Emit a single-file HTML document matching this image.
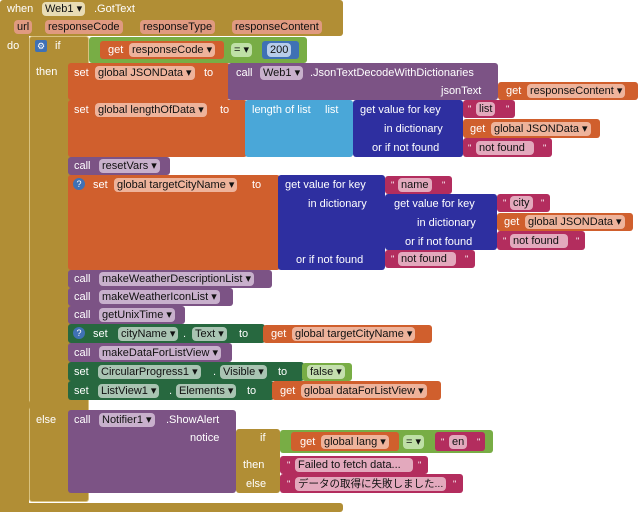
<!DOCTYPE html>
<html><head><meta charset="utf-8"><style>
body{margin:0;width:640px;height:512px;background:#fff;position:relative;overflow:hidden;font-family:"Liberation Sans","Noto Sans CJK JP",sans-serif;font-size:11px}
.b{position:absolute;border-radius:3px}
.t{position:absolute;color:#fff;white-space:nowrap;line-height:14px}
.p{position:absolute;background:rgba(255,255,255,.6);border-radius:4px;color:#111;padding:0 3px;height:14px;line-height:14px;white-space:nowrap}
.gold{background:#b18e35}.or{background:#d05f2d}.pu{background:#7c5385}.lb{background:#4aa7d8}.db{background:#2e2fa0}.mg{background:#b32d5e}.lg{background:#78ad45}.dg{background:#27683f}.mb{background:#3f71b5}
.q{position:absolute;color:#fff;font-size:9px;line-height:14px}
</style></head><body>
<div class="b gold" style="left:0;top:0;width:343px;height:36px"></div>
<div class="b gold" style="left:0;top:30px;width:29px;height:482px;border-radius:0"></div>
<div class="b gold" style="left:0;top:503px;width:343px;height:9px"></div>
<span class="t" style="left:7px;top:2px">when</span>
<span class="p" style="left:42px;top:2px;background:#e8dcb5">Web1 ▾</span>
<span class="t" style="left:94px;top:2px">.GotText</span>
<span class="p" style="left:14px;top:20px;background:#e09a80">url</span>
<span class="p" style="left:45px;top:20px;background:#e09a80">responseCode</span>
<span class="p" style="left:140px;top:20px;background:#e09a80">responseType</span>
<span class="p" style="left:232px;top:20px;background:#e09a80">responseContent</span>
<span class="t" style="left:7px;top:39px">do</span>
<div class="b gold" style="left:29px;top:36px;width:60px;height:466px;border:1px solid #d9c27f;box-sizing:border-box"></div>
<div class="b" style="left:29px;top:400px;width:39px;height:10px;background:#b18e35"></div>
<div class="b mb" style="left:35px;top:40px;width:12px;height:12px;border-radius:2px;font-size:9px;color:#fff;text-align:center;line-height:12px">⚙</div>
<span class="t" style="left:55px;top:39px">if</span>
<span class="t" style="left:36px;top:65px">then</span>
<span class="t" style="left:36px;top:413px">else</span>
<div class="b lg" style="left:89px;top:37px;width:218px;height:26px"></div>
<div class="b or" style="left:100px;top:41px;width:124px;height:18px"></div>
<span class="t" style="left:108px;top:43px">get</span>
<span class="p" style="left:129px;top:43px;background:#eeb39b">responseCode ▾</span>
<span class="p" style="left:231px;top:43px;background:#bfe0a6">= ▾</span>
<div class="b mb" style="left:262px;top:41px;width:37px;height:18px"></div>
<span class="p" style="left:267px;top:43px;background:#b8cdea">200</span>
<div class="b or" style="left:68px;top:63px;width:162px;height:37px"></div>
<span class="t" style="left:74px;top:66px">set</span>
<span class="p" style="left:95px;top:66px;background:#eeb39b">global JSONData ▾</span>
<span class="t" style="left:204px;top:66px">to</span>
<div class="b pu" style="left:228px;top:63px;width:270px;height:37px"></div>
<span class="t" style="left:236px;top:66px">call</span>
<span class="p" style="left:260px;top:66px;background:#c8b0cc">Web1 ▾</span>
<span class="t" style="left:310px;top:66px">.JsonTextDecodeWithDictionaries</span>
<span class="t" style="left:441px;top:84px">jsonText</span>
<div class="b or" style="left:498px;top:82px;width:140px;height:18px"></div>
<span class="t" style="left:506px;top:84px">get</span>
<span class="p" style="left:527px;top:84px;background:#eeb39b">responseContent ▾</span>
<div class="b or" style="left:68px;top:100px;width:179px;height:57px"></div>
<span class="t" style="left:74px;top:103px">set</span>
<span class="p" style="left:95px;top:103px;background:#eeb39b">global lengthOfData ▾</span>
<span class="t" style="left:220px;top:103px">to</span>
<div class="b lb" style="left:245px;top:100px;width:108px;height:57px"></div>
<span class="t" style="left:252px;top:103px">length of list</span>
<span class="t" style="left:325px;top:103px">list</span>
<div class="b db" style="left:353px;top:100px;width:110px;height:57px"></div>
<span class="t" style="left:360px;top:103px">get value for key</span>
<span class="t" style="left:384px;top:122px">in dictionary</span>
<span class="t" style="left:372px;top:141px">or if not found</span>
<div class="b mg" style="left:463px;top:100px;width:52px;height:18px"></div>
<span class="q" style="left:468px;top:102px">"</span><span class="p" style="left:476px;top:102px;background:#e3a9bd">list</span><span class="q" style="left:506px;top:102px">"</span>
<div class="b or" style="left:463px;top:119px;width:137px;height:19px"></div>
<span class="t" style="left:470px;top:122px">get</span>
<span class="p" style="left:491px;top:122px;background:#eeb39b">global JSONData ▾</span>
<div class="b mg" style="left:463px;top:138px;width:89px;height:19px"></div>
<span class="q" style="left:468px;top:141px">"</span><span class="p" style="left:476px;top:141px;background:#e3a9bd">not found&nbsp;&nbsp;</span><span class="q" style="left:543px;top:141px">"</span>
<div class="b pu" style="left:68px;top:157px;width:102px;height:18px"></div>
<span class="t" style="left:74px;top:159px">call</span>
<span class="p" style="left:99px;top:159px;background:#c8b0cc">resetVars ▾</span>
<div class="b or" style="left:68px;top:175px;width:212px;height:95px"></div>
<div class="b mb" style="left:73px;top:178px;width:12px;height:12px;border-radius:6px;font-size:9px;color:#fff;text-align:center;line-height:12px">?</div>
<span class="t" style="left:93px;top:178px">set</span>
<span class="p" style="left:114px;top:178px;background:#eeb39b">global targetCityName ▾</span>
<span class="t" style="left:252px;top:178px">to</span>
<div class="b db" style="left:278px;top:175px;width:107px;height:95px"></div>
<span class="t" style="left:285px;top:178px">get value for key</span>
<span class="t" style="left:308px;top:197px">in dictionary</span>
<span class="t" style="left:296px;top:253px">or if not found</span>
<div class="b mg" style="left:385px;top:176px;width:67px;height:18px"></div>
<span class="q" style="left:391px;top:178px">"</span><span class="p" style="left:398px;top:178px;background:#e3a9bd">name</span><span class="q" style="left:442px;top:178px">"</span>
<div class="b db" style="left:385px;top:194px;width:112px;height:56px"></div>
<span class="t" style="left:394px;top:197px">get value for key</span>
<span class="t" style="left:417px;top:216px">in dictionary</span>
<span class="t" style="left:405px;top:235px">or if not found</span>
<div class="b mg" style="left:497px;top:194px;width:53px;height:18px"></div>
<span class="q" style="left:503px;top:196px">"</span><span class="p" style="left:510px;top:196px;background:#e3a9bd">city</span><span class="q" style="left:541px;top:196px">"</span>
<div class="b or" style="left:497px;top:213px;width:136px;height:18px"></div>
<span class="t" style="left:504px;top:215px">get</span>
<span class="p" style="left:525px;top:215px;background:#eeb39b">global JSONData ▾</span>
<div class="b mg" style="left:497px;top:231px;width:88px;height:19px"></div>
<span class="q" style="left:503px;top:234px">"</span><span class="p" style="left:510px;top:234px;background:#e3a9bd">not found&nbsp;&nbsp;</span><span class="q" style="left:576px;top:234px">"</span>
<div class="b mg" style="left:385px;top:250px;width:90px;height:18px"></div>
<span class="q" style="left:391px;top:252px">"</span><span class="p" style="left:398px;top:252px;background:#e3a9bd">not found&nbsp;&nbsp;</span><span class="q" style="left:465px;top:252px">"</span>
<div class="b pu" style="left:68px;top:270px;width:204px;height:18px"></div>
<span class="t" style="left:74px;top:272px">call</span>
<span class="p" style="left:99px;top:272px;background:#c8b0cc">makeWeatherDescriptionList ▾</span>
<div class="b pu" style="left:68px;top:288px;width:165px;height:18px"></div>
<span class="t" style="left:74px;top:290px">call</span>
<span class="p" style="left:99px;top:290px;background:#c8b0cc">makeWeatherIconList ▾</span>
<div class="b pu" style="left:68px;top:306px;width:117px;height:18px"></div>
<span class="t" style="left:74px;top:308px">call</span>
<span class="p" style="left:99px;top:308px;background:#c8b0cc">getUnixTime ▾</span>
<div class="b dg" style="left:68px;top:324px;width:197px;height:19px"></div>
<div class="b mb" style="left:73px;top:327px;width:12px;height:12px;border-radius:6px;font-size:9px;color:#fff;text-align:center;line-height:12px">?</div>
<span class="t" style="left:93px;top:327px">set</span>
<span class="p" style="left:118px;top:327px;background:#a9c4b2">cityName ▾</span>
<span class="t" style="left:183px;top:327px">.</span>
<span class="p" style="left:192px;top:327px;background:#a9c4b2">Text ▾</span>
<span class="t" style="left:239px;top:327px">to</span>
<div class="b or" style="left:263px;top:325px;width:169px;height:18px"></div>
<span class="t" style="left:271px;top:327px">get</span>
<span class="p" style="left:292px;top:327px;background:#eeb39b">global targetCityName ▾</span>
<div class="b pu" style="left:68px;top:343px;width:164px;height:19px"></div>
<span class="t" style="left:74px;top:346px">call</span>
<span class="p" style="left:99px;top:346px;background:#c8b0cc">makeDataForListView ▾</span>
<div class="b dg" style="left:68px;top:362px;width:236px;height:19px"></div>
<span class="t" style="left:74px;top:365px">set</span>
<span class="p" style="left:98px;top:365px;background:#a9c4b2">CircularProgress1 ▾</span>
<span class="t" style="left:213px;top:365px">.</span>
<span class="p" style="left:220px;top:365px;background:#a9c4b2">Visible ▾</span>
<span class="t" style="left:278px;top:365px">to</span>
<div class="b lg" style="left:302px;top:363px;width:50px;height:18px"></div>
<span class="p" style="left:307px;top:365px;background:#c4dfae">false ▾</span>
<div class="b dg" style="left:68px;top:381px;width:206px;height:19px"></div>
<span class="t" style="left:74px;top:384px">set</span>
<span class="p" style="left:98px;top:384px;background:#a9c4b2">ListView1 ▾</span>
<span class="t" style="left:169px;top:384px">.</span>
<span class="p" style="left:176px;top:384px;background:#a9c4b2">Elements ▾</span>
<span class="t" style="left:247px;top:384px">to</span>
<div class="b or" style="left:272px;top:381px;width:169px;height:19px"></div>
<span class="t" style="left:280px;top:384px">get</span>
<span class="p" style="left:301px;top:384px;background:#eeb39b">global dataForListView ▾</span>
<div class="b pu" style="left:68px;top:410px;width:168px;height:83px"></div>
<span class="t" style="left:74px;top:413px">call</span>
<span class="p" style="left:99px;top:413px;background:#c8b0cc">Notifier1 ▾</span>
<span class="t" style="left:166px;top:413px">.ShowAlert</span>
<span class="t" style="left:190px;top:431px">notice</span>
<div class="b gold" style="left:236px;top:429px;width:44px;height:64px"></div>
<span class="t" style="left:260px;top:431px">if</span>
<span class="t" style="left:243px;top:458px">then</span>
<span class="t" style="left:246px;top:477px">else</span>
<div class="b lg" style="left:280px;top:430px;width:213px;height:23px"></div>
<div class="b or" style="left:291px;top:432px;width:108px;height:19px"></div>
<span class="t" style="left:300px;top:435px">get</span>
<span class="p" style="left:321px;top:435px;background:#eeb39b">global lang ▾</span>
<span class="p" style="left:403px;top:435px;background:#bfe0a6">= ▾</span>
<div class="b mg" style="left:435px;top:432px;width:50px;height:19px"></div>
<span class="q" style="left:441px;top:435px">"</span><span class="p" style="left:449px;top:435px;background:#e3a9bd">en</span><span class="q" style="left:477px;top:435px">"</span>
<div class="b mg" style="left:280px;top:456px;width:148px;height:18px"></div>
<span class="q" style="left:287px;top:458px">"</span><span class="p" style="left:295px;top:458px;background:#e3a9bd">Failed to fetch data...&nbsp;&nbsp;&nbsp;</span><span class="q" style="left:418px;top:458px">"</span>
<div class="b mg" style="left:280px;top:474px;width:183px;height:19px"></div>
<span class="q" style="left:287px;top:477px">"</span><span class="p" style="left:295px;top:477px;background:#e3a9bd;font-size:10.5px">データの取得に失敗しました...</span><span class="q" style="left:453px;top:477px">"</span>
</body></html>
